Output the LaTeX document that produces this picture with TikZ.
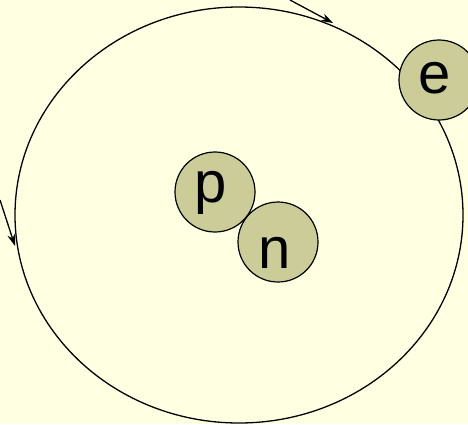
\documentclass[tikz,border=0pt]{standalone}
\usepackage{fontspec}
\setmainfont{Liberation Sans}
\usepackage{tikz}
\usetikzlibrary{arrows.meta,positioning}
\usepackage{xcolor}
\definecolor{paper}{RGB}{255,255,226}
\definecolor{khaki}{RGB}{204,204,153}

\begin{document}
\begin{tikzpicture}[
    x=1pt, y=-1pt,
    particle/.style={draw, circle, fill=khaki, line width=1.2pt, minimum size=80pt, inner sep=0pt},
    letter/.style={anchor=base, inner sep=0pt, font=\fontsize{58}{60}\selectfont},
    >={Stealth[length=12pt,width=8pt]}
  ]
  \fill[paper] (0,0) rectangle (468,424);
  \useasboundingbox (0,0) rectangle (468,424);
  % orbit
  \draw[line width=1.3pt] (239,215) ellipse [x radius=224, y radius=208];
  % incoming arrows
  \coordinate (top-start) at (290,0);
  \coordinate (top-end) at (333,23);
  \coordinate (left-start) at (0,200);
  \coordinate (left-end) at (15,246);
  \draw[->, line width=1.3pt] (top-start) -- (top-end);
  \draw[->, line width=1.3pt] (left-start) -- (left-end);
  % nucleus and electron
  \node[particle] (e) at (439,80) {};
  \node[particle] (p) at (215,192) {};
  \node[particle] (n) at (278,242) {};
  \node[letter] (e-label) at (435,93) {e};
  \node[letter] (p-label) at (211,202) {p};
  \node[letter] (n-label) at (275,268) {n};
\end{tikzpicture}
\end{document}
